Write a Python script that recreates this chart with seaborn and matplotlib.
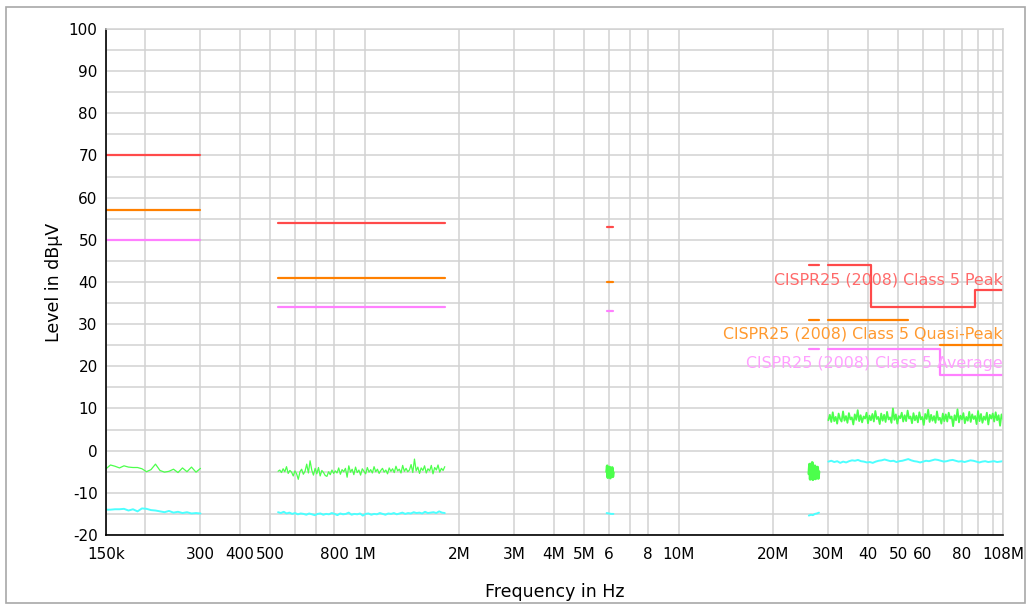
import numpy as np
import pandas as pd
import matplotlib.pyplot as plt
import seaborn as sns
from matplotlib.patches import Rectangle

# limit lines: (frequencies, levels) per band, drawn as steps
peak_f = [[150e3, 300e3], [530e3, 1.8e6], [5.9e6, 6.2e6], [26e6, 28e6],
          [30e6, 41e6, 41e6, 88e6, 88e6, 108e6]]
peak_l = [[70, 70], [54, 54], [53, 53], [44, 44], [44, 44, 34, 34, 38, 38]]
qp_f = [[150e3, 300e3], [530e3, 1.8e6], [5.9e6, 6.2e6], [26e6, 28e6],
        [30e6, 54e6], [68e6, 108e6]]
qp_l = [[57, 57], [41, 41], [40, 40], [31, 31], [31, 31], [25, 25]]
avg_f = [[150e3, 300e3], [530e3, 1.8e6], [5.9e6, 6.2e6], [26e6, 28e6],
         [30e6, 68e6, 68e6, 108e6]]
avg_l = [[50, 50], [34, 34], [33, 33], [24, 24], [24, 24, 18, 18]]

# measured traces, per band (start, stop, values)
lw_band = (150e3, 300e3)
lw_green = [-4.3, -3.4, -3.7, -4.1, -3.6, -3.9, -4.0, -4.0, -4.3, -5.0, -4.5,
            -3.2, -4.7, -5.1, -4.9, -4.4, -5.2, -4.1, -5.0, -3.9, -5.1, -4.2]
lw_cyan = [-14.0, -14.0, -13.9, -13.9, -13.8, -14.2, -13.9, -14.4, -13.7, -13.8,
           -14.1, -14.2, -14.4, -14.6, -14.3, -14.7, -14.5, -14.8, -14.6, -14.9, -14.8, -14.9]

mw_band = (530e3, 1.8e6)
mw_green = [-4.9, -4.6, -5.2, -4.3, -5.0, -3.8, -5.4, -4.7, -5.1, -6.0, -4.8, -5.5,
            -6.8, -5.0, -4.4, -5.6, -4.9, -3.2, -5.3, -2.4, -4.6, -5.8, -4.2, -5.5,
            -4.0, -6.0, -4.7, -5.2, -5.9, -6.1, -5.0, -5.7, -4.6, -5.4, -4.8, -5.3,
            -4.1, -5.6, -4.5, -5.0, -4.2, -6.3, -3.6, -5.1, -4.4, -5.7, -3.9, -5.2,
            -4.6, -5.8, -4.3, -4.9, -5.5, -4.0, -5.1, -4.5, -5.3, -3.8, -5.0, -4.4,
            -5.4, -4.7, -4.2, -5.1, -4.6, -5.5, -4.1, -4.9, -4.3, -5.2, -3.7, -4.8,
            -4.4, -5.3, -3.5, -4.9, -4.2, -5.0, -4.6, -3.3, -5.2, -2.0, -4.8, -3.9,
            -5.4, -4.1, -4.7, -3.6, -5.3, -4.3, -4.8, -3.5, -5.5, -4.0, -4.6, -3.4,
            -5.1, -4.2, -4.7, -3.8]
mw_cyan = [-14.6, -14.8, -14.5, -14.9, -14.7, -15.0, -14.8, -15.1, -14.9, -15.0,
           -15.2, -14.9, -15.1, -15.3, -15.0, -14.9, -15.2, -15.0, -15.1, -14.8,
           -15.0, -15.3, -14.9, -15.1, -15.0, -14.7, -15.2, -15.0, -15.1, -14.9,
           -15.4, -15.0, -14.9, -15.2, -15.0, -15.1, -14.8, -15.0, -15.2, -14.9,
           -15.0, -14.8, -15.1, -14.9, -14.7, -15.0, -14.8, -14.9, -14.6, -14.8,
           -14.7, -14.9, -14.5, -14.8, -14.7, -14.6, -14.8, -14.4, -14.7, -14.8]

sw_band = (5.9e6, 6.2e6)
sw_green = [-5.0, -3.6, -6.4, -4.2, -6.0, -3.9, -6.5, -4.5, -5.8, -4.0, -6.2, -5.2]
sw_cyan = [-14.8, -14.9, -15.0, -15.0]

cb_band = (26e6, 28e6)
cb_green = [-5.5, -3.2, -6.8, -4.0, -6.5, -2.8, -6.9, -4.5, -6.2, -3.6, -6.7,
            -4.2, -6.4, -3.9, -6.6, -5.0]
cb_cyan = [-15.4, -15.2, -15.3, -15.0, -14.9, -14.7]

hf_band = (30e6, 108e6)
hf_green = [7.2, 8.5, 6.8, 9.1, 7.0, 8.0, 6.4, 8.8, 7.5, 6.9, 9.3, 7.1, 8.2, 6.6, 8.9, 7.4, 7.9, 6.2, 8.6, 7.3,
            9.6, 7.0, 8.4, 6.7, 8.1, 7.6, 9.0, 6.5, 8.3, 7.2, 8.7, 6.9, 9.4, 7.5, 8.0, 6.3, 8.8, 7.1, 8.5, 6.8,
            9.2, 7.4, 7.9, 6.6, 10.0, 7.3, 8.6, 6.4, 8.2, 7.7, 9.0, 6.9, 8.4, 7.0, 9.5, 7.6, 8.1, 6.5, 8.9, 7.2,
            8.3, 6.7, 9.1, 7.4, 8.0, 6.1, 8.7, 7.5, 9.7, 6.8, 8.5, 7.1, 8.2, 6.6, 9.3, 7.3, 7.8, 6.4, 8.8, 7.0,
            8.6, 6.9, 9.0, 7.6, 8.1, 5.8, 8.4, 7.2, 9.8, 6.7, 8.3, 7.4, 8.9, 6.5, 8.0, 7.1, 9.2, 6.8, 8.6, 7.5,
            8.2, 6.3, 9.4, 7.0, 8.7, 6.6, 8.1, 7.3, 9.0, 6.2, 8.5, 7.6, 8.8, 6.9, 9.1, 7.2, 8.4, 5.9, 8.6, 7.4]
hf_cyan = [-2.6, -2.4, -2.7, -2.5, -2.9, -2.6, -2.8, -2.5, -2.3, -2.4, -2.2, -2.5, -2.6, -2.8, -2.7,
           -2.9, -2.6, -2.4, -2.3, -2.1, -2.3, -2.5, -2.4, -2.7, -2.5, -2.4, -2.2, -2.0, -2.3, -2.5,
           -2.6, -2.8, -2.6, -2.4, -2.5, -2.3, -2.1, -2.2, -2.4, -2.6, -2.5, -2.3, -2.2, -2.4, -2.6,
           -2.5, -2.7, -2.5, -2.3, -2.4, -2.6, -2.8, -2.6, -2.5, -2.7, -2.6, -2.5, -2.7, -2.6, -2.5]

tick_freqs = [150e3, 200e3, 300e3, 400e3, 500e3, 600e3, 700e3, 800e3, 1e6, 2e6, 3e6, 4e6, 5e6,
              6e6, 7e6, 8e6, 10e6, 20e6, 30e6, 40e6, 50e6, 60e6, 70e6, 80e6, 90e6, 100e6, 108e6]
tick_labels = ['150k', '', '300', '400', '500', '', '', '800', '1M', '2M', '3M', '4M', '5M',
               '6', '', '8', '10M', '20M', '30M', '40', '50', '60', '', '80', '', '', '108M']

green = '#4cff4c'
cyan = '#4dffff'
c_peak, c_qp, c_avg = '#ff4a4a', '#ff8000', '#ff80ff'

sns.set_style('white')
plt.rcParams['font.family'] = ['DejaVu Sans']
plt.rcParams['axes.unicode_minus'] = False

fig = plt.figure(figsize=(10.32, 6.06), dpi=100)
ax = fig.add_axes([0.1027, 0.1172, 0.8692, 0.8350])
fig.patches.append(Rectangle((6 / 1032, 3 / 606), 1019 / 1032, 596 / 606, transform=fig.transFigure,
                             fill=False, edgecolor='#a8a8a8', linewidth=1.2))


def band_df(band, vals):
    return pd.DataFrame({'f': np.geomspace(band[0], band[1], len(vals)), 'v': vals})


for band, g, c in [(lw_band, lw_green, lw_cyan), (mw_band, mw_green, mw_cyan),
                   (sw_band, sw_green, sw_cyan), (cb_band, cb_green, cb_cyan),
                   (hf_band, hf_green, hf_cyan)]:
    if band in (sw_band, cb_band):
        lw_g = 2.0
    elif band == hf_band:
        lw_g = 1.3
    else:
        lw_g = 0.9
    sns.lineplot(data=band_df(band, c), x='f', y='v', color=cyan, linewidth=1.4,
                 estimator=None, sort=False, ax=ax)
    sns.lineplot(data=band_df(band, g), x='f', y='v', color=green, linewidth=lw_g,
                 estimator=None, sort=False, ax=ax)

for fs, ls, col in [(peak_f, peak_l, c_peak), (qp_f, qp_l, c_qp), (avg_f, avg_l, c_avg)]:
    for f, l in zip(fs, ls):
        sns.lineplot(x=f, y=l, color=col, linewidth=1.6, estimator=None, sort=False, ax=ax)

ax.text(108e6, 40.5, 'CISPR25 (2008) Class 5 Peak', color='#ff6a6a', fontsize=11.4,
        ha='right', va='center')
ax.text(108e6, 27.7, 'CISPR25 (2008) Class 5 Quasi-Peak', color='#ff9a30', fontsize=11.4,
        ha='right', va='center')
ax.text(108e6, 20.7, 'CISPR25 (2008) Class 5 Average', color='#ffa0ff', fontsize=11.4,
        ha='right', va='center')

ax.set_xscale('log')
ax.set_xlim(150e3, 108e6)
ax.set_ylim(-20, 100)
ax.set_xticks(tick_freqs)
ax.set_xticklabels(tick_labels)
ax.xaxis.set_minor_locator(plt.NullLocator())
ax.set_yticks(range(-20, 101, 10))
ax.set_yticks(range(-15, 100, 10), minor=True)
ax.grid(True, which='both', color='#d2d2d2', linewidth=1.1)
ax.set_axisbelow(True)
ax.tick_params(axis='both', which='major', direction='inout', length=6, width=1.2,
               labelsize=11, colors='black', pad=3)
ax.tick_params(axis='y', which='minor', direction='inout', length=5, width=1.2)
ax.tick_params(axis='x', pad=6)
for s in ['left', 'bottom']:
    ax.spines[s].set_color('black')
    ax.spines[s].set_linewidth(1.2)
for s in ['top', 'right']:
    ax.spines[s].set_color('#d2d2d2')
    ax.spines[s].set_linewidth(1.1)

ax.set_xlabel('Frequency in Hz', fontsize=12.5, labelpad=15, color='black')
ax.set_ylabel('Level in dBµV', fontsize=12.5, labelpad=4, color='black')

fig.savefig('out.png', dpi=100)
